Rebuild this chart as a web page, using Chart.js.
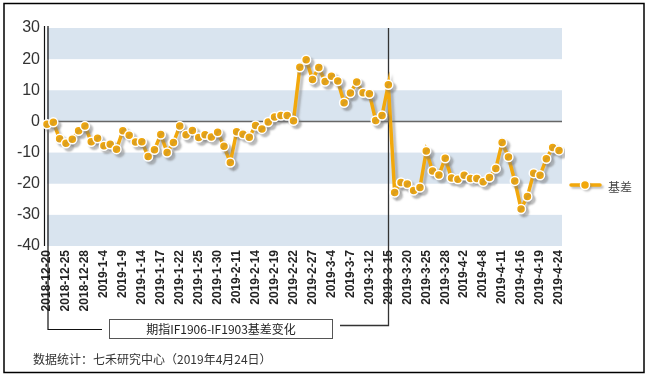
<!DOCTYPE html>
<html><head><meta charset="utf-8">
<script src="https://cdn.jsdelivr.net/npm/chart.js@4.4.1/dist/chart.umd.min.js"></script>
<style>html,body{margin:0;padding:0;background:#fff;}canvas{display:block;}</style>
</head><body>
<canvas id="c" width="648" height="379"></canvas>
<script>
const dates = ['2018-12-20','2018-12-21','2018-12-24','2018-12-25','2018-12-26','2018-12-27','2018-12-28',
'2019-1-2','2019-1-3','2019-1-4','2019-1-7','2019-1-8','2019-1-9','2019-1-10','2019-1-11','2019-1-14','2019-1-15','2019-1-16','2019-1-17','2019-1-18','2019-1-21','2019-1-22','2019-1-23','2019-1-24','2019-1-25','2019-1-28','2019-1-29','2019-1-30','2019-1-31','2019-2-1',
'2019-2-11','2019-2-12','2019-2-13','2019-2-14','2019-2-15','2019-2-18','2019-2-19','2019-2-20','2019-2-21','2019-2-22','2019-2-25','2019-2-26','2019-2-27','2019-2-28','2019-3-1',
'2019-3-4','2019-3-5','2019-3-6','2019-3-7','2019-3-8','2019-3-11','2019-3-12','2019-3-13','2019-3-14','2019-3-15',
'2019-3-18','2019-3-19','2019-3-20','2019-3-21','2019-3-22','2019-3-25','2019-3-26','2019-3-27','2019-3-28','2019-3-29',
'2019-4-1','2019-4-2','2019-4-3','2019-4-4','2019-4-8','2019-4-9','2019-4-10','2019-4-11','2019-4-12','2019-4-15','2019-4-16','2019-4-17','2019-4-18','2019-4-19','2019-4-22','2019-4-23','2019-4-24'];
const basis = [-0.9,-0.3,-5.6,-7.0,-5.7,-3.0,-1.5,-6.5,-5.4,-7.8,-7.3,-8.9,-3.0,-4.4,-6.6,-6.5,-11.3,-9.1,-4.2,-10.0,
-6.8,-1.5,-4.3,-2.9,-5.2,-4.3,-5.0,-3.5,-8.0,-13.2,-3.3,-4.1,-5.1,-1.3,-2.4,-0.2,1.4,1.9,1.9,0.2,
17.4,19.8,13.5,17.3,12.8,14.5,13.0,6.0,9.1,12.7,9.2,8.9,0.3,1.9,11.8,-22.8,-19.6,-20.1,-22.2,-21.2,
-9.5,-15.9,-17.2,-11.8,-18.2,-18.6,-17.3,-18.3,-18.3,-19.4,-18.0,-15.1,-6.8,-11.4,-19.1,-28.1,-24.1,-16.6,-17.3,-12.0,-8.4,-9.3];
const seriesName = '基差';
const yTicks = [30,20,10,0,-10,-20,-30,-40];
const shadedBands = [[30,20],[10,0],[-10,-20],[-30,-40]];
const splitDate = '2019-3-15';
const noteText = '期指IF1906-IF1903基差变化';
const footerText = '数据统计：七禾研究中心（2019年4月24日）';
const labelEvery = 3;

const ORANGE = '#f2a80c';
const CJK = '"Noto Sans CJK SC", "Liberation Sans", sans-serif';

const decor = {
  id: 'decor',
  beforeDatasetsDraw(chart) {
    const {ctx, chartArea: a, scales: {x, y}} = chart;
    ctx.save();
    // bands
    ctx.fillStyle = '#d9e4ef';
    shadedBands.forEach(([hi, lo]) => {
      const t = y.getPixelForValue(hi), b = y.getPixelForValue(lo);
      ctx.fillRect(a.left, t, a.right + 3 - a.left, b - t);
    });
    // zero line
    const y0 = Math.round(y.getPixelForValue(0)) + 0.5;
    ctx.strokeStyle = '#666'; ctx.lineWidth = 1.5;
    ctx.beginPath(); ctx.moveTo(a.left, y0); ctx.lineTo(a.right + 3, y0); ctx.stroke();
    // axis double line + bracket
    ctx.strokeStyle = '#111'; ctx.lineWidth = 1.2;
    ctx.beginPath(); ctx.moveTo(44.5, a.top - 2); ctx.lineTo(44.5, a.bottom); ctx.stroke();
    ctx.beginPath(); ctx.moveTo(48, a.top - 2); ctx.lineTo(48, 329.5); ctx.lineTo(102, 329.5); ctx.stroke();
    // split line
    const xs = Math.round(x.getPixelForValue(dates.indexOf(splitDate))) + 0.5;
    ctx.strokeStyle = '#333'; ctx.lineWidth = 1.3;
    ctx.beginPath(); ctx.moveTo(xs, a.top); ctx.lineTo(xs, 325.5); ctx.lineTo(340, 325.5); ctx.stroke();
    // note box
    ctx.strokeStyle = '#555'; ctx.lineWidth = 1;
    ctx.strokeRect(109.5, 319.5, 223, 19);
    ctx.fillStyle = '#222'; ctx.font = '12px ' + CJK;
    ctx.textAlign = 'center'; ctx.textBaseline = 'middle';
    ctx.fillText(noteText, 221, 329.5);
    // footer
    ctx.textAlign = 'left'; ctx.fillStyle = '#333';
    ctx.fillText(footerText, 33, 359);
    ctx.restore();
  },
  beforeDatasetDraw(chart) {
    const ctx = chart.ctx;
    ctx.save();
    ctx.shadowColor = 'rgba(120,120,120,0.45)';
    ctx.shadowOffsetX = 3; ctx.shadowOffsetY = 3; ctx.shadowBlur = 2;
  },
  afterDatasetDraw(chart) { chart.ctx.restore(); },
  afterDraw(chart) {
    const ctx = chart.ctx;
    ctx.save();
    // outer frame
    ctx.strokeStyle = '#000'; ctx.lineWidth = 1.5;
    ctx.strokeRect(4, 3.5, 640, 369);
    // legend
    ctx.shadowColor = 'rgba(120,120,120,0.45)';
    ctx.shadowOffsetX = 2; ctx.shadowOffsetY = 2; ctx.shadowBlur = 2;
    ctx.strokeStyle = ORANGE; ctx.lineWidth = 3.5; ctx.lineCap = 'round';
    ctx.beginPath(); ctx.moveTo(571, 185); ctx.lineTo(600, 185); ctx.stroke();
    ctx.beginPath(); ctx.arc(585, 185, 4.5, 0, Math.PI * 2);
    ctx.fillStyle = ORANGE; ctx.fill();
    ctx.shadowColor = 'transparent';
    ctx.strokeStyle = '#fff'; ctx.lineWidth = 1.5; ctx.stroke();
    ctx.fillStyle = '#444'; ctx.font = '12px ' + CJK;
    ctx.textAlign = 'left'; ctx.textBaseline = 'middle';
    ctx.fillText(chart.data.datasets[0].label, 608, 187);
    ctx.restore();
  }
};

new Chart(document.getElementById('c'), {
  type: 'line',
  data: {
    labels: dates,
    datasets: [{
      label: seriesName,
      data: basis,
      borderColor: ORANGE,
      borderWidth: 3.5,
      backgroundColor: ORANGE,
      pointBackgroundColor: ORANGE,
      pointBorderColor: '#fff',
      pointBorderWidth: 1.5,
      pointRadius: 4.5,
      tension: 0,
      fill: false
    }]
  },
  options: {
    responsive: false,
    devicePixelRatio: 1,
    animation: false,
    layout: { padding: { left: 0, right: 89, top: 28, bottom: 0 } },
    plugins: { legend: { display: false }, tooltip: { enabled: false } },
    scales: {
      x: {
        offset: false,
        grid: { display: false, drawTicks: false },
        border: { display: false },
        afterFit(s) { s.height = 133; },
        ticks: {
          autoSkip: false, minRotation: 90, maxRotation: 90, padding: 4,
          color: '#222', font: { family: '"Liberation Sans", Arial, sans-serif', size: 12, weight: 'bold' },
          callback(v, i) { return i % labelEvery === 0 ? this.getLabelForValue(v) : ''; }
        }
      },
      y: {
        min: -40, max: 30,
        grid: { display: false, drawTicks: false },
        border: { display: false },
        afterFit(s) { s.width = 47; },
        afterBuildTicks(s) { s.ticks = yTicks.map(v => ({ value: v })); },
        ticks: {
          padding: 7, color: '#333',
          font: { family: '"Liberation Sans", Arial, sans-serif', size: 16 }
        }
      }
    }
  },
  plugins: [decor]
});
</script>
</body></html>
